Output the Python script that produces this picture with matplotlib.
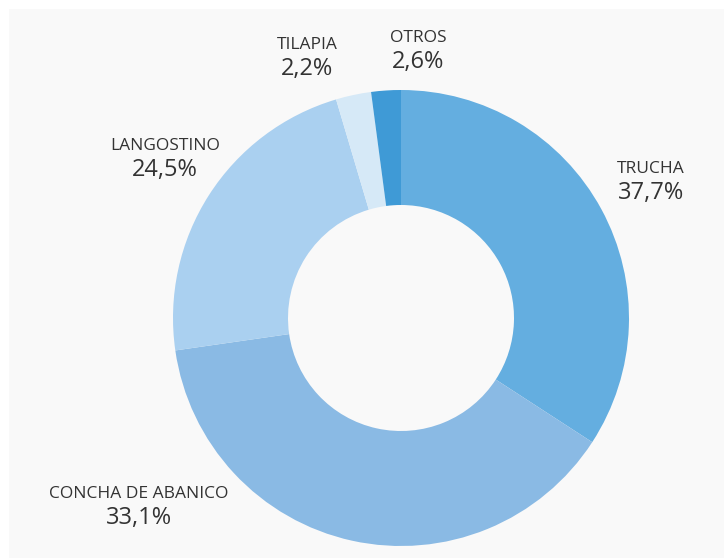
import matplotlib
matplotlib.use("Agg")
import matplotlib.pyplot as plt
from matplotlib.patches import Rectangle

categories = ["TRUCHA", "CONCHA DE ABANICO", "LANGOSTINO", "TILAPIA", "OTROS"]
# percentages printed in the labels
values = [37.7, 33.1, 24.5, 2.2, 2.6]
# slice shares as drawn in the reference picture (measured from its geometry)
drawn_shares = [34.2, 38.6, 22.7, 2.5, 2.1]
colors = ["#64AEE0", "#8ABAE4", "#AAD0F0", "#D6E9F7", "#3F9AD6"]

# label positions in pixel coords (x, y from top) : name line, value line
label_pos = {
    "TRUCHA": (651, 169, 193),
    "CONCHA DE ABANICO": (139, 494, 518),
    "LANGOSTINO": (165, 146, 170),
    "TILAPIA": (307, 45, 69),
    "OTROS": (418, 38, 62),
}

W, H = 724, 558
fig = plt.figure(figsize=(W / 100, H / 100), dpi=100)
fig.patch.set_facecolor("white")
ax = fig.add_axes([0, 0, 1, 1])

ax.add_patch(Rectangle((9, 0), W - 9, H - 9, facecolor="#F9F9F9", edgecolor="none", zorder=0))

cx, cy = 401, H - 318
R = 228
ax.pie(drawn_shares, colors=colors, startangle=90, counterclock=False,
       center=(cx, cy), radius=R, frame=True,
       wedgeprops=dict(width=R - 113, edgecolor="none", linewidth=0))
ax.set_xlim(0, W)
ax.set_ylim(0, H)
ax.set_aspect("equal")
ax.axis("off")

font = "Open Sans"
for cat, val in zip(categories, values):
    x, yn, yv = label_pos[cat]
    ax.text(x, H - yn, cat, ha="center", va="center", fontsize=12.5,
            family=font, color="#333333")
    ax.text(x, H - yv, f"{val:.1f}%".replace(".", ","), ha="center", va="center",
            fontsize=17, family=font, color="#333333")

fig.savefig("out.png", dpi=100, facecolor="white")
